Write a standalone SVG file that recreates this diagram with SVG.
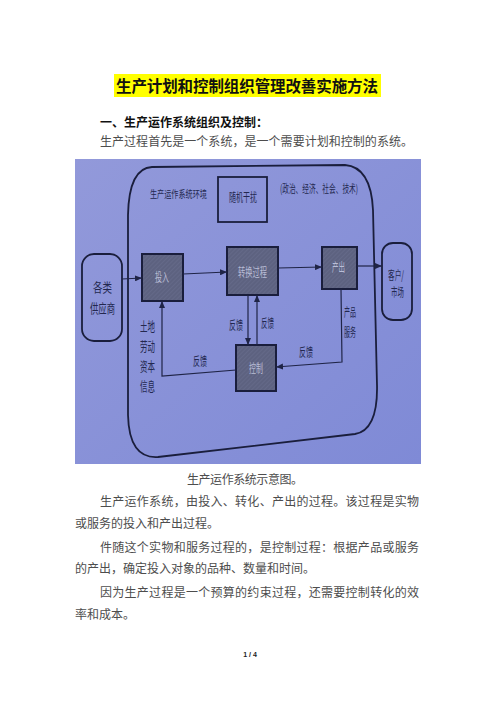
<svg xmlns="http://www.w3.org/2000/svg" width="496" height="702" viewBox="0 0 496 702">
<style>
.pg{font-family:"Noto Sans CJK SC","Liberation Serif",serif;fill:#4d4d4d}
.hd{font-family:"Noto Sans CJK SC","Liberation Sans",sans-serif;font-weight:bold;fill:#111}
.ph{font-family:"Noto Sans CJK SC","Liberation Sans",sans-serif;fill:#23284f}
.bx{font-family:"Noto Sans CJK SC","Liberation Sans",sans-serif;fill:#b9bdd6}
.dark{fill:url(#hatch);stroke:#1a1e3c;stroke-width:2}
.ln{fill:none;stroke:#1f2446;stroke-width:1.2}
.out{fill:none;stroke:#1a1e3c;stroke-width:1.8}
</style>
<defs>
<linearGradient id="bg" x1="0" y1="0" x2="1" y2="1">
<stop offset="0" stop-color="#9299da"/>
<stop offset="1" stop-color="#7f8ad6"/>
</linearGradient>
<pattern id="hatch" width="3" height="3" patternUnits="userSpaceOnUse" patternTransform="rotate(45)">
<rect width="3" height="3" fill="#5d6280"/>
<line x1="0" y1="0" x2="0" y2="3" stroke="#6b7090" stroke-width="1"/>
</pattern>
<marker id="ar" markerWidth="7" markerHeight="6" refX="7" refY="3" orient="auto" markerUnits="userSpaceOnUse">
<path d="M0,0 L7,3 L0,6 z" fill="#1f2446"/>
</marker>
</defs>
<rect width="496" height="702" fill="#fff"/>
<rect x="114" y="74" width="267" height="23" fill="#ffff00"/>
<text class="hd" x="116" y="91.5" font-size="15.5" textLength="262">生产计划和控制组织管理改善实施方法</text>
<text class="hd" x="100" y="126.5" font-size="12">一、生产运作系统组织及控制：</text>
<text class="pg" x="100" y="145.5" font-size="12" textLength="313">生产过程首先是一个系统，是一个需要计划和控制的系统。</text>

<g id="photo">
<rect x="75" y="159" width="346" height="305" fill="url(#bg)"/>
<path class="out" d="M152,167 L345,165 Q371,167 373,210 L377,385 Q378,430 355,434 L158,457 Q129,459 128,415 L128,215 Q129,168 152,167 Z"/>
<text class="ph" x="150" y="198" font-size="9.8" textLength="57" lengthAdjust="spacingAndGlyphs">生产运作系统环境</text>
<text class="ph" x="280" y="192.5" font-size="11" textLength="78" lengthAdjust="spacingAndGlyphs">(政治、经济、社会、技术)</text>
</g>

<g id="node-disturb">
<rect x="218" y="177" width="49" height="45" fill="none" stroke="#1a1e3c" stroke-width="1.8"/>
<text class="ph" x="229" y="202" font-size="12" textLength="28" lengthAdjust="spacingAndGlyphs">随机干扰</text>
</g>
<g id="node-supplier">
<rect x="82" y="254" width="40" height="87" rx="12" fill="none" stroke="#1a1e3c" stroke-width="1.8"/>
<text class="ph" x="93" y="292" font-size="13" textLength="19" lengthAdjust="spacingAndGlyphs">各类</text>
<text class="ph" x="90" y="313" font-size="13" textLength="25" lengthAdjust="spacingAndGlyphs">供应商</text>
</g>
<g id="node-input">
<rect class="dark" x="142" y="254" width="41" height="47"/>
<text class="bx" x="155" y="281.5" font-size="12" textLength="14" lengthAdjust="spacingAndGlyphs">投入</text>
</g>
<g id="node-transform">
<rect class="dark" x="227" y="247" width="51" height="48"/>
<text class="bx" x="238" y="276.5" font-size="12" textLength="29" lengthAdjust="spacingAndGlyphs">转换过程</text>
</g>
<g id="node-output">
<rect class="dark" x="322" y="247" width="35" height="42"/>
<text class="bx" x="332" y="271.5" font-size="12" textLength="13" lengthAdjust="spacingAndGlyphs">产出</text>
</g>
<g id="node-control">
<rect class="dark" x="236" y="345" width="40" height="46"/>
<text class="bx" x="249" y="373" font-size="12" textLength="14" lengthAdjust="spacingAndGlyphs">控制</text>
</g>
<g id="node-customer">
<rect x="382" y="243" width="30" height="77" rx="11" fill="none" stroke="#1a1e3c" stroke-width="1.8"/>
<text class="ph" x="388" y="280" font-size="12" textLength="16" lengthAdjust="spacingAndGlyphs">客户/</text>
<text class="ph" x="391" y="297" font-size="12" textLength="13" lengthAdjust="spacingAndGlyphs">市场</text>
</g>

<g id="connectors">
<path class="ln" d="M122,279 L142,278" marker-end="url(#ar)"/>
<path class="ln" d="M183,274 L227,272" marker-end="url(#ar)"/>
<path class="ln" d="M278,268 L322,267" marker-end="url(#ar)"/>
<path class="ln" d="M357,266 L382,266" marker-end="url(#ar)"/>
<path class="ln" d="M341,289 L342,362 L276,367" marker-end="url(#ar)"/>
<path class="ln" d="M236,370 L162,376 L162,301" marker-end="url(#ar)"/>
<path class="ln" d="M248,295 L248,345" marker-end="url(#ar)"/>
<path class="ln" d="M257,345 L257,295" marker-end="url(#ar)"/>
<text class="ph" x="229" y="329.5" font-size="12" textLength="14" lengthAdjust="spacingAndGlyphs">反馈</text>
<text class="ph" x="261" y="327.5" font-size="12" textLength="13" lengthAdjust="spacingAndGlyphs">反馈</text>
<text class="ph" x="193" y="365.5" font-size="12" textLength="14" lengthAdjust="spacingAndGlyphs">反馈</text>
<text class="ph" x="299" y="356.5" font-size="12" textLength="14" lengthAdjust="spacingAndGlyphs">反馈</text>
<text class="ph" x="344" y="317" font-size="12" textLength="12" lengthAdjust="spacingAndGlyphs">产品</text>
<text class="ph" x="344" y="337" font-size="12" textLength="12" lengthAdjust="spacingAndGlyphs">服务</text>
<text class="ph" x="140" y="330.5" font-size="13" textLength="15" lengthAdjust="spacingAndGlyphs">土地</text>
<text class="ph" x="140" y="350.5" font-size="13" textLength="15" lengthAdjust="spacingAndGlyphs">劳动</text>
<text class="ph" x="140" y="370.5" font-size="13" textLength="15" lengthAdjust="spacingAndGlyphs">资本</text>
<text class="ph" x="140" y="390.5" font-size="13" textLength="15" lengthAdjust="spacingAndGlyphs">信息</text>
</g>

<text class="pg" x="187" y="483.5" font-size="12" textLength="116">生产运作系统示意图。</text>
<text class="pg" x="100" y="505.5" font-size="12" textLength="319">生产运作系统，由投入、转化、产出的过程。该过程是实物</text>
<text class="pg" x="75" y="527.5" font-size="12">或服务的投入和产出过程。</text>
<text class="pg" x="100" y="551.5" font-size="12" textLength="319">件随这个实物和服务过程的，是控制过程：根据产品或服务</text>
<text class="pg" x="75" y="572.5" font-size="12">的产出，确定投入对象的品种、数量和时间。</text>
<text class="pg" x="100" y="596.5" font-size="12" textLength="319">因为生产过程是一个预算的约束过程，还需要控制转化的效</text>
<text class="pg" x="75" y="618.5" font-size="12">率和成本。</text>
<text x="250" y="657" text-anchor="middle" font-family="Liberation Sans, sans-serif" font-weight="bold" font-size="7" fill="#222">1 / 4</text>
</svg>
